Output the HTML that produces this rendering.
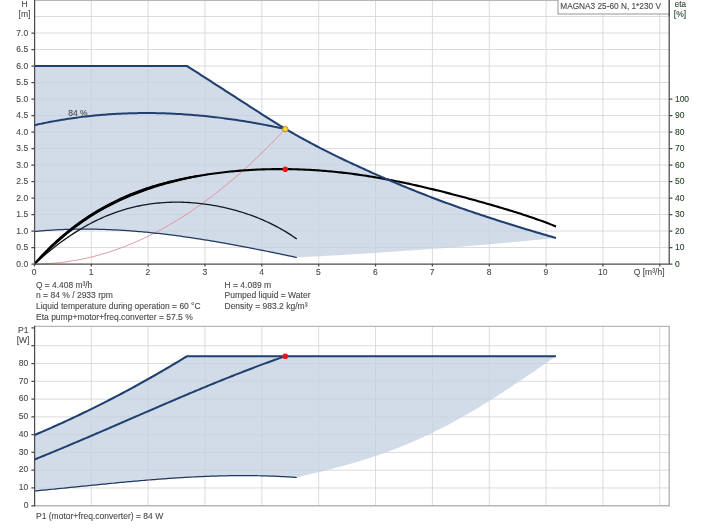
<!DOCTYPE html>
<html lang="en">
<head>
<meta charset="utf-8">
<title>MAGNA3 25-60 N, 1*230 V</title>
<style>
html,body{margin:0;padding:0;background:#fff;}
body{width:704px;height:528px;overflow:hidden;position:relative;font-family:"Liberation Sans",Arial,sans-serif;}
svg{position:absolute;left:0;top:0;display:block;}
svg text{font-family:"Liberation Sans",Arial,sans-serif;}
</style>
</head>
<body>
<svg width="704" height="528" viewBox="0 0 704 528">
<rect x="0" y="0" width="704" height="528" fill="#ffffff"/>
<path d="M91.30 0.40 V264.00 M148.15 0.40 V264.00 M205.00 0.40 V264.00 M261.85 0.40 V264.00 M318.70 0.40 V264.00 M375.55 0.40 V264.00 M432.40 0.40 V264.00 M489.25 0.40 V264.00 M546.10 0.40 V264.00 M602.95 0.40 V264.00 M659.80 0.40 V264.00 M34.60 247.50 H669.20 M34.60 231.00 H669.20 M34.60 214.50 H669.20 M34.60 198.00 H669.20 M34.60 181.50 H669.20 M34.60 165.00 H669.20 M34.60 148.50 H669.20 M34.60 132.00 H669.20 M34.60 115.50 H669.20 M34.60 99.00 H669.20 M34.60 82.50 H669.20 M34.60 66.00 H669.20 M34.60 49.50 H669.20 M34.60 33.00 H669.20 M34.60 16.50 H669.20 M91.30 326.40 V505.75 M148.15 326.40 V505.75 M205.00 326.40 V505.75 M261.85 326.40 V505.75 M318.70 326.40 V505.75 M375.55 326.40 V505.75 M432.40 326.40 V505.75 M489.25 326.40 V505.75 M546.10 326.40 V505.75 M602.95 326.40 V505.75 M659.80 326.40 V505.75 M34.60 487.97 H669.20 M34.60 470.19 H669.20 M34.60 452.41 H669.20 M34.60 434.63 H669.20 M34.60 416.85 H669.20 M34.60 399.07 H669.20 M34.60 381.29 H669.20 M34.60 363.51 H669.20 M34.60 345.73 H669.20" stroke="#d4d4d4" stroke-width="0.85" fill="none"/>
<path d="M34.60 66 H187 L187.00 66.00 L189.01 67.29 L191.01 68.58 L193.02 69.87 L195.02 71.16 L197.03 72.45 L199.03 73.74 L201.04 75.04 L203.04 76.33 L205.05 77.62 L207.05 78.91 L209.06 80.20 L211.07 81.49 L213.07 82.78 L215.08 84.07 L217.08 85.37 L219.09 86.66 L221.09 87.95 L223.10 89.24 L225.10 90.53 L227.11 91.82 L229.11 93.11 L231.12 94.40 L233.12 95.70 L235.13 96.99 L237.14 98.28 L239.14 99.57 L241.15 100.86 L243.15 102.15 L245.16 103.44 L247.16 104.73 L249.17 106.02 L251.17 107.32 L253.18 108.61 L255.18 109.90 L257.19 111.19 L259.20 112.48 L261.20 113.77 L263.21 115.06 L265.21 116.35 L267.22 117.64 L269.22 118.91 L271.23 120.18 L273.23 121.43 L275.24 122.68 L277.24 123.91 L279.25 125.13 L281.26 126.35 L283.26 127.55 L285.27 128.74 L287.27 129.92 L289.28 131.10 L291.28 132.26 L293.29 133.41 L295.29 134.55 L297.30 135.68 L299.30 136.80 L301.31 137.92 L303.32 139.02 L305.32 140.11 L307.33 141.20 L309.33 142.28 L311.34 143.36 L313.34 144.42 L315.35 145.48 L317.35 146.53 L319.36 147.57 L321.36 148.61 L323.37 149.64 L325.38 150.66 L327.38 151.67 L329.39 152.67 L331.39 153.67 L333.40 154.66 L335.40 155.64 L337.41 156.62 L339.41 157.58 L341.42 158.54 L343.42 159.50 L345.43 160.45 L347.43 161.40 L349.44 162.34 L351.45 163.28 L353.45 164.22 L355.46 165.15 L357.46 166.07 L359.47 167.00 L361.47 167.92 L363.48 168.83 L365.48 169.74 L367.49 170.65 L369.49 171.55 L371.50 172.45 L373.51 173.34 L375.51 174.23 L377.52 175.11 L379.52 176.00 L381.53 176.87 L383.53 177.75 L385.54 178.61 L387.54 179.48 L389.55 180.34 L391.55 181.20 L393.56 182.05 L395.57 182.90 L397.57 183.74 L399.58 184.58 L401.58 185.41 L403.59 186.25 L405.59 187.07 L407.60 187.89 L409.60 188.71 L411.61 189.52 L413.61 190.33 L415.62 191.14 L417.62 191.94 L419.63 192.73 L421.64 193.52 L423.64 194.31 L425.65 195.09 L427.65 195.86 L429.66 196.64 L431.66 197.40 L433.67 198.17 L435.67 198.92 L437.68 199.68 L439.68 200.43 L441.69 201.17 L443.70 201.91 L445.70 202.65 L447.71 203.38 L449.71 204.11 L451.72 204.83 L453.72 205.55 L455.73 206.26 L457.73 206.97 L459.74 207.67 L461.74 208.37 L463.75 209.07 L465.76 209.76 L467.76 210.44 L469.77 211.12 L471.77 211.80 L473.78 212.48 L475.78 213.15 L477.79 213.82 L479.79 214.49 L481.80 215.15 L483.80 215.81 L485.81 216.47 L487.82 217.13 L489.82 217.79 L491.83 218.44 L493.83 219.09 L495.84 219.74 L497.84 220.38 L499.85 221.02 L501.85 221.66 L503.86 222.30 L505.86 222.94 L507.87 223.57 L509.88 224.20 L511.88 224.83 L513.89 225.45 L515.89 226.07 L517.90 226.69 L519.90 227.31 L521.91 227.93 L523.91 228.54 L525.92 229.15 L527.92 229.76 L529.93 230.36 L531.93 230.96 L533.94 231.56 L535.95 232.16 L537.95 232.76 L539.96 233.35 L541.96 233.94 L543.97 234.53 L545.97 235.11 L547.98 235.69 L549.98 236.27 L551.99 236.85 L553.99 237.43 L556.00 238.00 L556.00 238.00 L549.97 238.60 L543.94 239.19 L537.92 239.77 L531.89 240.35 L525.86 240.92 L519.83 241.48 L513.80 242.04 L507.78 242.59 L501.75 243.13 L495.72 243.66 L489.69 244.19 L483.67 244.71 L477.64 245.23 L471.61 245.73 L465.58 246.23 L459.55 246.73 L453.53 247.21 L447.50 247.69 L441.47 248.17 L435.44 248.63 L429.41 249.09 L423.39 249.54 L417.36 249.99 L411.33 250.42 L405.30 250.85 L399.27 251.28 L393.25 251.70 L387.22 252.11 L381.19 252.51 L375.16 252.90 L369.13 253.29 L363.11 253.68 L357.08 254.05 L351.05 254.42 L345.02 254.78 L339.00 255.13 L332.97 255.48 L326.94 255.82 L320.91 256.16 L314.88 256.48 L308.86 256.80 L302.83 257.12 L296.80 257.42 L296.80 257.50 L294.80 257.07 L292.79 256.65 L290.79 256.23 L288.79 255.81 L286.79 255.38 L284.78 254.96 L282.78 254.55 L280.78 254.13 L278.78 253.71 L276.77 253.30 L274.77 252.89 L272.77 252.47 L270.77 252.06 L268.76 251.66 L266.76 251.25 L264.76 250.85 L262.75 250.44 L260.75 250.04 L258.75 249.64 L256.75 249.25 L254.74 248.85 L252.74 248.46 L250.74 248.07 L248.74 247.68 L246.73 247.29 L244.73 246.91 L242.73 246.53 L240.73 246.15 L238.72 245.77 L236.72 245.40 L234.72 245.03 L232.71 244.66 L230.71 244.30 L228.71 243.93 L226.71 243.57 L224.70 243.22 L222.70 242.86 L220.70 242.51 L218.70 242.17 L216.69 241.82 L214.69 241.48 L212.69 241.14 L210.69 240.81 L208.68 240.48 L206.68 240.15 L204.68 239.83 L202.67 239.51 L200.67 239.19 L198.67 238.88 L196.67 238.57 L194.66 238.26 L192.66 237.96 L190.66 237.66 L188.66 237.37 L186.65 237.08 L184.65 236.80 L182.65 236.52 L180.65 236.24 L178.64 235.97 L176.64 235.70 L174.64 235.43 L172.63 235.18 L170.63 234.92 L168.63 234.67 L166.63 234.43 L164.62 234.19 L162.62 233.95 L160.62 233.72 L158.62 233.49 L156.61 233.27 L154.61 233.06 L152.61 232.84 L150.60 232.64 L148.60 232.44 L146.60 232.24 L144.60 232.05 L142.59 231.87 L140.59 231.69 L138.59 231.51 L136.59 231.35 L134.58 231.18 L132.58 231.03 L130.58 230.88 L128.58 230.73 L126.57 230.59 L124.57 230.46 L122.57 230.33 L120.56 230.21 L118.56 230.09 L116.56 229.98 L114.56 229.88 L112.55 229.78 L110.55 229.69 L108.55 229.61 L106.55 229.53 L104.54 229.46 L102.54 229.39 L100.54 229.33 L98.54 229.28 L96.53 229.24 L94.53 229.20 L92.53 229.17 L90.52 229.14 L88.52 229.13 L86.52 229.12 L84.52 229.11 L82.51 229.12 L80.51 229.13 L78.51 229.15 L76.51 229.17 L74.50 229.20 L72.50 229.25 L70.50 229.29 L68.50 229.35 L66.49 229.41 L64.49 229.48 L62.49 229.56 L60.48 229.65 L58.48 229.74 L56.48 229.84 L54.48 229.95 L52.47 230.07 L50.47 230.20 L48.47 230.33 L46.47 230.47 L44.46 230.63 L42.46 230.78 L40.46 230.95 L38.46 231.13 L36.45 231.31 L34.45 231.50 Z" fill="rgba(194,209,225,0.76)" stroke="none"/>
<path d="M34.45 435.02 L36.46 434.17 L38.46 433.32 L40.47 432.46 L42.48 431.60 L44.49 430.73 L46.49 429.86 L48.50 428.98 L50.51 428.09 L52.52 427.21 L54.52 426.31 L56.53 425.41 L58.54 424.51 L60.54 423.60 L62.55 422.69 L64.56 421.77 L66.57 420.85 L68.57 419.92 L70.58 418.98 L72.59 418.05 L74.59 417.10 L76.60 416.15 L78.61 415.20 L80.62 414.24 L82.62 413.28 L84.63 412.31 L86.64 411.34 L88.65 410.36 L90.65 409.37 L92.66 408.38 L94.67 407.39 L96.67 406.39 L98.68 405.39 L100.69 404.38 L102.70 403.36 L104.70 402.35 L106.71 401.32 L108.72 400.29 L110.72 399.26 L112.73 398.22 L114.74 397.18 L116.75 396.13 L118.75 395.07 L120.76 394.01 L122.77 392.95 L124.78 391.88 L126.78 390.81 L128.79 389.73 L130.80 388.64 L132.80 387.55 L134.81 386.46 L136.82 385.36 L138.83 384.26 L140.83 383.15 L142.84 382.03 L144.85 380.91 L146.86 379.79 L148.86 378.66 L150.87 377.53 L152.88 376.39 L154.88 375.24 L156.89 374.09 L158.90 372.94 L160.91 371.78 L162.91 370.62 L164.92 369.45 L166.93 368.27 L168.93 367.09 L170.94 365.91 L172.95 364.72 L174.96 363.52 L176.96 362.32 L178.97 361.12 L180.98 359.91 L182.99 358.69 L184.99 357.47 L187.00 356.25 H556 L556.00 356.25 L554.01 357.62 L552.01 358.99 L550.02 360.37 L548.02 361.74 L546.03 363.11 L544.04 364.49 L542.04 365.86 L540.05 367.23 L538.06 368.60 L536.06 369.97 L534.07 371.34 L532.07 372.70 L530.08 374.06 L528.09 375.42 L526.09 376.78 L524.10 378.13 L522.10 379.48 L520.11 380.82 L518.12 382.16 L516.12 383.50 L514.13 384.83 L512.14 386.15 L510.14 387.47 L508.15 388.79 L506.15 390.10 L504.16 391.40 L502.17 392.70 L500.17 393.99 L498.18 395.27 L496.18 396.55 L494.19 397.81 L492.20 399.08 L490.20 400.33 L488.21 401.58 L486.22 402.81 L484.22 404.04 L482.23 405.27 L480.23 406.48 L478.24 407.68 L476.25 408.88 L474.25 410.07 L472.26 411.24 L470.26 412.41 L468.27 413.57 L466.28 414.72 L464.28 415.86 L462.29 416.99 L460.30 418.11 L458.30 419.22 L456.31 420.33 L454.31 421.42 L452.32 422.50 L450.33 423.57 L448.33 424.63 L446.34 425.67 L444.34 426.71 L442.35 427.74 L440.36 428.76 L438.36 429.77 L436.37 430.76 L434.38 431.75 L432.38 432.72 L430.39 433.68 L428.39 434.64 L426.40 435.58 L424.41 436.51 L422.41 437.43 L420.42 438.34 L418.42 439.24 L416.43 440.13 L414.44 441.00 L412.44 441.87 L410.45 442.72 L408.46 443.57 L406.46 444.40 L404.47 445.23 L402.47 446.04 L400.48 446.84 L398.49 447.63 L396.49 448.41 L394.50 449.18 L392.50 449.94 L390.51 450.69 L388.52 451.43 L386.52 452.16 L384.53 452.89 L382.54 453.60 L380.54 454.30 L378.55 454.99 L376.55 455.67 L374.56 456.34 L372.57 457.01 L370.57 457.66 L368.58 458.31 L366.58 458.95 L364.59 459.57 L362.60 460.19 L360.60 460.81 L358.61 461.41 L356.62 462.01 L354.62 462.60 L352.63 463.18 L350.63 463.75 L348.64 464.32 L346.65 464.88 L344.65 465.43 L342.66 465.98 L340.66 466.52 L338.67 467.06 L336.68 467.59 L334.68 468.11 L332.69 468.63 L330.70 469.14 L328.70 469.65 L326.71 470.16 L324.71 470.66 L322.72 471.15 L320.73 471.65 L318.73 472.14 L316.74 472.62 L314.74 473.11 L312.75 473.59 L310.76 474.07 L308.76 474.55 L306.77 475.03 L304.78 475.50 L302.78 475.98 L300.79 476.45 L298.79 476.93 L296.80 477.40 L296.80 477.50 L294.80 477.36 L292.79 477.22 L290.79 477.08 L288.79 476.96 L286.79 476.83 L284.78 476.72 L282.78 476.61 L280.78 476.51 L278.78 476.41 L276.77 476.32 L274.77 476.23 L272.77 476.15 L270.77 476.08 L268.76 476.01 L266.76 475.95 L264.76 475.89 L262.75 475.84 L260.75 475.79 L258.75 475.75 L256.75 475.71 L254.74 475.68 L252.74 475.66 L250.74 475.63 L248.74 475.62 L246.73 475.61 L244.73 475.60 L242.73 475.60 L240.73 475.61 L238.72 475.61 L236.72 475.63 L234.72 475.65 L232.71 475.67 L230.71 475.70 L228.71 475.73 L226.71 475.76 L224.70 475.80 L222.70 475.85 L220.70 475.90 L218.70 475.95 L216.69 476.01 L214.69 476.07 L212.69 476.14 L210.69 476.21 L208.68 476.28 L206.68 476.36 L204.68 476.44 L202.67 476.52 L200.67 476.61 L198.67 476.70 L196.67 476.80 L194.66 476.90 L192.66 477.00 L190.66 477.10 L188.66 477.21 L186.65 477.33 L184.65 477.44 L182.65 477.56 L180.65 477.68 L178.64 477.81 L176.64 477.93 L174.64 478.07 L172.63 478.20 L170.63 478.33 L168.63 478.47 L166.63 478.62 L164.62 478.76 L162.62 478.91 L160.62 479.06 L158.62 479.21 L156.61 479.36 L154.61 479.52 L152.61 479.68 L150.60 479.84 L148.60 480.00 L146.60 480.17 L144.60 480.34 L142.59 480.50 L140.59 480.68 L138.59 480.85 L136.59 481.02 L134.58 481.20 L132.58 481.38 L130.58 481.56 L128.58 481.74 L126.57 481.92 L124.57 482.11 L122.57 482.30 L120.56 482.48 L118.56 482.67 L116.56 482.86 L114.56 483.05 L112.55 483.25 L110.55 483.44 L108.55 483.63 L106.55 483.83 L104.54 484.02 L102.54 484.22 L100.54 484.42 L98.54 484.62 L96.53 484.82 L94.53 485.02 L92.53 485.22 L90.52 485.42 L88.52 485.62 L86.52 485.82 L84.52 486.02 L82.51 486.23 L80.51 486.43 L78.51 486.63 L76.51 486.83 L74.50 487.04 L72.50 487.24 L70.50 487.44 L68.50 487.64 L66.49 487.85 L64.49 488.05 L62.49 488.25 L60.48 488.45 L58.48 488.65 L56.48 488.85 L54.48 489.05 L52.47 489.25 L50.47 489.45 L48.47 489.65 L46.47 489.84 L44.46 490.04 L42.46 490.23 L40.46 490.43 L38.46 490.62 L36.45 490.81 L34.45 491.00 Z" fill="rgba(194,209,225,0.76)" stroke="none"/>
<path d="M34.60 0.40 H669.20" stroke="#b6b6b6" stroke-width="1.2" fill="none"/>
<path d="M34.60 326.40 H669.20 V505.75 H34.60" stroke="#b6b6b6" stroke-width="1.4" fill="none"/>
<path d="M34.45 264.00 L36.46 263.99 L38.46 263.97 L40.47 263.92 L42.47 263.86 L44.48 263.78 L46.48 263.69 L48.49 263.58 L50.49 263.45 L52.50 263.30 L54.50 263.14 L56.51 262.95 L58.51 262.76 L60.52 262.54 L62.52 262.31 L64.53 262.06 L66.53 261.79 L68.54 261.50 L70.54 261.20 L72.55 260.88 L74.55 260.54 L76.56 260.19 L78.56 259.82 L80.57 259.43 L82.57 259.02 L84.58 258.60 L86.59 258.16 L88.59 257.70 L90.60 257.23 L92.60 256.73 L94.61 256.22 L96.61 255.70 L98.62 255.15 L100.62 254.59 L102.63 254.01 L104.63 253.42 L106.64 252.80 L108.64 252.17 L110.65 251.52 L112.65 250.86 L114.66 250.18 L116.66 249.48 L118.67 248.76 L120.67 248.03 L122.68 247.27 L124.68 246.50 L126.69 245.72 L128.69 244.91 L130.70 244.09 L132.70 243.26 L134.71 242.40 L136.72 241.53 L138.72 240.64 L140.73 239.73 L142.73 238.81 L144.74 237.86 L146.74 236.91 L148.75 235.93 L150.75 234.94 L152.76 233.92 L154.76 232.90 L156.77 231.85 L158.77 230.79 L160.78 229.71 L162.78 228.61 L164.79 227.50 L166.79 226.37 L168.80 225.22 L170.80 224.05 L172.81 222.87 L174.81 221.67 L176.82 220.45 L178.82 219.21 L180.83 217.96 L182.83 216.69 L184.84 215.40 L186.85 214.10 L188.85 212.77 L190.86 211.44 L192.86 210.08 L194.87 208.71 L196.87 207.31 L198.88 205.91 L200.88 204.48 L202.89 203.04 L204.89 201.58 L206.90 200.10 L208.90 198.61 L210.91 197.09 L212.91 195.56 L214.92 194.02 L216.92 192.45 L218.93 190.87 L220.93 189.27 L222.94 187.66 L224.94 186.03 L226.95 184.38 L228.95 182.71 L230.96 181.02 L232.96 179.32 L234.97 177.60 L236.98 175.87 L238.98 174.11 L240.99 172.34 L242.99 170.55 L245.00 168.75 L247.00 166.92 L249.01 165.08 L251.01 163.23 L253.02 161.35 L255.02 159.46 L257.03 157.55 L259.03 155.62 L261.04 153.68 L263.04 151.72 L265.05 149.74 L267.05 147.74 L269.06 145.73 L271.06 143.70 L273.07 141.65 L275.07 139.59 L277.08 137.51 L279.08 135.41 L281.09 133.29 L283.09 131.15 L285.10 129.00" stroke="#e0959b" stroke-width="1" fill="none"/>
<path d="M34.45 231.50 L36.45 231.31 L38.46 231.13 L40.46 230.95 L42.46 230.78 L44.46 230.63 L46.47 230.47 L48.47 230.33 L50.47 230.20 L52.47 230.07 L54.48 229.95 L56.48 229.84 L58.48 229.74 L60.48 229.65 L62.49 229.56 L64.49 229.48 L66.49 229.41 L68.50 229.35 L70.50 229.29 L72.50 229.25 L74.50 229.20 L76.51 229.17 L78.51 229.15 L80.51 229.13 L82.51 229.12 L84.52 229.11 L86.52 229.12 L88.52 229.13 L90.52 229.14 L92.53 229.17 L94.53 229.20 L96.53 229.24 L98.54 229.28 L100.54 229.33 L102.54 229.39 L104.54 229.46 L106.55 229.53 L108.55 229.61 L110.55 229.69 L112.55 229.78 L114.56 229.88 L116.56 229.98 L118.56 230.09 L120.56 230.21 L122.57 230.33 L124.57 230.46 L126.57 230.59 L128.58 230.73 L130.58 230.88 L132.58 231.03 L134.58 231.18 L136.59 231.35 L138.59 231.51 L140.59 231.69 L142.59 231.87 L144.60 232.05 L146.60 232.24 L148.60 232.44 L150.60 232.64 L152.61 232.84 L154.61 233.06 L156.61 233.27 L158.62 233.49 L160.62 233.72 L162.62 233.95 L164.62 234.19 L166.63 234.43 L168.63 234.67 L170.63 234.92 L172.63 235.18 L174.64 235.43 L176.64 235.70 L178.64 235.97 L180.65 236.24 L182.65 236.52 L184.65 236.80 L186.65 237.08 L188.66 237.37 L190.66 237.66 L192.66 237.96 L194.66 238.26 L196.67 238.57 L198.67 238.88 L200.67 239.19 L202.67 239.51 L204.68 239.83 L206.68 240.15 L208.68 240.48 L210.69 240.81 L212.69 241.14 L214.69 241.48 L216.69 241.82 L218.70 242.17 L220.70 242.51 L222.70 242.86 L224.70 243.22 L226.71 243.57 L228.71 243.93 L230.71 244.30 L232.71 244.66 L234.72 245.03 L236.72 245.40 L238.72 245.77 L240.73 246.15 L242.73 246.53 L244.73 246.91 L246.73 247.29 L248.74 247.68 L250.74 248.07 L252.74 248.46 L254.74 248.85 L256.75 249.25 L258.75 249.64 L260.75 250.04 L262.75 250.44 L264.76 250.85 L266.76 251.25 L268.76 251.66 L270.77 252.06 L272.77 252.47 L274.77 252.89 L276.77 253.30 L278.78 253.71 L280.78 254.13 L282.78 254.55 L284.78 254.96 L286.79 255.38 L288.79 255.81 L290.79 256.23 L292.79 256.65 L294.80 257.07 L296.80 257.50" stroke="#1d3760" stroke-width="1.25" fill="none"/>
<path d="M34.45 264.05 L36.45 262.24 L38.46 260.46 L40.46 258.70 L42.46 256.97 L44.46 255.26 L46.47 253.58 L48.47 251.93 L50.47 250.29 L52.47 248.69 L54.48 247.11 L56.48 245.56 L58.48 244.04 L60.48 242.54 L62.49 241.08 L64.49 239.63 L66.49 238.22 L68.50 236.84 L70.50 235.48 L72.50 234.15 L74.50 232.85 L76.51 231.58 L78.51 230.34 L80.51 229.13 L82.51 227.94 L84.52 226.78 L86.52 225.65 L88.52 224.55 L90.52 223.48 L92.53 222.44 L94.53 221.42 L96.53 220.44 L98.54 219.48 L100.54 218.55 L102.54 217.65 L104.54 216.77 L106.55 215.93 L108.55 215.11 L110.55 214.31 L112.55 213.55 L114.56 212.81 L116.56 212.10 L118.56 211.42 L120.56 210.76 L122.57 210.13 L124.57 209.52 L126.57 208.94 L128.58 208.39 L130.58 207.86 L132.58 207.36 L134.58 206.88 L136.59 206.43 L138.59 206.00 L140.59 205.59 L142.59 205.21 L144.60 204.85 L146.60 204.52 L148.60 204.21 L150.60 203.92 L152.61 203.66 L154.61 203.41 L156.61 203.19 L158.62 203.00 L160.62 202.82 L162.62 202.66 L164.62 202.53 L166.63 202.42 L168.63 202.33 L170.63 202.26 L172.63 202.21 L174.64 202.18 L176.64 202.17 L178.64 202.18 L180.65 202.21 L182.65 202.26 L184.65 202.33 L186.65 202.42 L188.66 202.52 L190.66 202.65 L192.66 202.79 L194.66 202.96 L196.67 203.14 L198.67 203.34 L200.67 203.56 L202.67 203.80 L204.68 204.06 L206.68 204.33 L208.68 204.63 L210.69 204.94 L212.69 205.27 L214.69 205.62 L216.69 205.98 L218.70 206.37 L220.70 206.77 L222.70 207.20 L224.70 207.64 L226.71 208.10 L228.71 208.58 L230.71 209.08 L232.71 209.60 L234.72 210.14 L236.72 210.70 L238.72 211.28 L240.73 211.88 L242.73 212.50 L244.73 213.14 L246.73 213.80 L248.74 214.49 L250.74 215.19 L252.74 215.92 L254.74 216.68 L256.75 217.46 L258.75 218.26 L260.75 219.08 L262.75 219.94 L264.76 220.81 L266.76 221.72 L268.76 222.65 L270.77 223.61 L272.77 224.60 L274.77 225.62 L276.77 226.66 L278.78 227.74 L280.78 228.85 L282.78 230.00 L284.78 231.17 L286.79 232.39 L288.79 233.63 L290.79 234.92 L292.79 236.24 L294.80 237.60 L296.80 239.00" stroke="#111820" stroke-width="1.3" fill="none"/>
<path d="M34.45 264.06 L36.45 261.85 L38.45 259.68 L40.44 257.55 L42.44 255.46 L44.44 253.41 L46.44 251.39 L48.44 249.42 L50.44 247.48 L52.43 245.58 L54.43 243.72 L56.43 241.89 L58.43 240.10 L60.43 238.34 L62.43 236.62 L64.42 234.93 L66.42 233.28 L68.42 231.65 L70.42 230.06 L72.42 228.51 L74.42 226.98 L76.41 225.49 L78.41 224.02 L80.41 222.59 L82.41 221.18 L84.41 219.80 L86.41 218.46 L88.40 217.14 L90.40 215.84 L92.40 214.58 L94.40 213.34 L96.40 212.13 L98.39 210.94 L100.39 209.78 L102.39 208.64 L104.39 207.53 L106.39 206.44 L108.39 205.38 L110.38 204.33 L112.38 203.31 L114.38 202.32 L116.38 201.34 L118.38 200.39 L120.38 199.46 L122.37 198.54 L124.37 197.65 L126.37 196.78 L128.37 195.93 L130.37 195.09 L132.37 194.28 L134.36 193.48 L136.36 192.70 L138.36 191.94 L140.36 191.20 L142.36 190.48 L144.36 189.77 L146.35 189.07 L148.35 188.40 L150.35 187.74 L152.35 187.09 L154.35 186.46 L156.34 185.85 L158.34 185.25 L160.34 184.66 L162.34 184.09 L164.34 183.53 L166.34 182.99 L168.33 182.45 L170.33 181.94 L172.33 181.43 L174.33 180.94 L176.33 180.46 L178.33 179.99 L180.32 179.54 L182.32 179.09 L184.32 178.66 L186.32 178.24 L188.32 177.83 L190.32 177.43 L192.31 177.04 L194.31 176.67 L196.31 176.30 L198.31 175.95 L200.31 175.60 L202.31 175.27 L204.30 174.94 L206.30 174.63 L208.30 174.32 L210.30 174.02 L212.30 173.74 L214.29 173.46 L216.29 173.19 L218.29 172.93 L220.29 172.69 L222.29 172.44 L224.29 172.21 L226.28 171.99 L228.28 171.78 L230.28 171.57 L232.28 171.37 L234.28 171.19 L236.28 171.01 L238.27 170.83 L240.27 170.67 L242.27 170.52 L244.27 170.37 L246.27 170.23 L248.27 170.10 L250.26 169.98 L252.26 169.86 L254.26 169.76 L256.26 169.66 L258.26 169.57 L260.26 169.48 L262.25 169.41 L264.25 169.34 L266.25 169.28 L268.25 169.23 L270.25 169.19 L272.24 169.15 L274.24 169.12 L276.24 169.10 L278.24 169.09 L280.24 169.08 L282.24 169.08 L284.23 169.09 L286.23 169.11 L288.23 169.13 L290.23 169.17 L292.23 169.21 L294.23 169.25 L296.22 169.31 L298.22 169.37 L300.22 169.44 L302.22 169.52 L304.22 169.60 L306.22 169.70 L308.21 169.80 L310.21 169.90 L312.21 170.02 L314.21 170.14 L316.21 170.27 L318.21 170.40 L320.20 170.55 L322.20 170.70 L324.20 170.86 L326.20 171.02 L328.20 171.20 L330.19 171.38 L332.19 171.57 L334.19 171.76 L336.19 171.96 L338.19 172.17 L340.19 172.39 L342.18 172.61 L344.18 172.84 L346.18 173.08 L348.18 173.33 L350.18 173.58 L352.18 173.83 L354.17 174.10 L356.17 174.37 L358.17 174.65 L360.17 174.94 L362.17 175.23 L364.17 175.53 L366.16 175.83 L368.16 176.14 L370.16 176.46 L372.16 176.79 L374.16 177.12 L376.16 177.46 L378.15 177.80 L380.15 178.15 L382.15 178.50 L384.15 178.87 L386.15 179.23 L388.14 179.61 L390.14 179.99 L392.14 180.37 L394.14 180.76 L396.14 181.16 L398.14 181.56 L400.13 181.97 L402.13 182.38 L404.13 182.80 L406.13 183.22 L408.13 183.65 L410.13 184.08 L412.12 184.52 L414.12 184.96 L416.12 185.40 L418.12 185.86 L420.12 186.31 L422.12 186.77 L424.11 187.24 L426.11 187.71 L428.11 188.18 L430.11 188.66 L432.11 189.14 L434.11 189.62 L436.10 190.11 L438.10 190.60 L440.10 191.10 L442.10 191.60 L444.10 192.10 L446.09 192.61 L448.09 193.12 L450.09 193.64 L452.09 194.15 L454.09 194.67 L456.09 195.20 L458.08 195.72 L460.08 196.25 L462.08 196.78 L464.08 197.32 L466.08 197.86 L468.08 198.40 L470.07 198.94 L472.07 199.49 L474.07 200.04 L476.07 200.59 L478.07 201.15 L480.07 201.71 L482.06 202.27 L484.06 202.84 L486.06 203.40 L488.06 203.97 L490.06 204.55 L492.06 205.13 L494.05 205.71 L496.05 206.29 L498.05 206.88 L500.05 207.47 L502.05 208.06 L504.04 208.66 L506.04 209.27 L508.04 209.87 L510.04 210.49 L512.04 211.10 L514.04 211.72 L516.03 212.35 L518.03 212.98 L520.03 213.62 L522.03 214.26 L524.03 214.91 L526.03 215.57 L528.02 216.23 L530.02 216.90 L532.02 217.58 L534.02 218.27 L536.02 218.96 L538.02 219.67 L540.01 220.38 L542.01 221.10 L544.01 221.84 L546.01 222.58 L548.01 223.34 L550.01 224.11 L552.00 224.89 L554.00 225.69 L556.00 226.50" stroke="#000" stroke-width="2.1" fill="none" stroke-linejoin="round"/>
<path d="M35.23 264.76 L37.26 262.59 L39.30 260.46 L41.33 258.37 L43.36 256.32 L45.37 254.31 L47.39 252.33 L49.41 250.39 L51.42 248.48 L53.41 246.59 L55.41 244.74 L57.40 242.92 L59.39 241.14 L61.38 239.40 L63.37 237.68 L65.37 236.01 L67.36 234.36 L69.35 232.75 L71.34 231.17 L73.33 229.63 L75.32 228.11 L77.31 226.63 L79.31 225.17 L81.30 223.75 L83.29 222.35 L85.28 220.99 L87.27 219.65 L89.26 218.34 L91.25 217.06 L93.24 215.80 L95.23 214.58 L97.22 213.37 L99.21 212.20 L101.20 211.05 L103.19 209.92 L105.18 208.82 L107.17 207.74 L109.16 206.69 L111.15 205.66 L113.14 204.65 L115.13 203.66 L117.12 202.70 L119.11 201.75 L121.10 200.83 L123.09 199.93 L125.08 199.05 L127.07 198.18 L129.06 197.34 L131.05 196.52 L133.04 195.71 L135.03 194.93 L137.02 194.16 L139.01 193.40 L141.00 192.67 L142.98 191.93 L144.97 191.21 L146.95 190.51 L148.94 189.82 L150.92 189.15 L152.91 188.49 L154.89 187.85 L156.88 187.23 L158.87 186.62 L160.85 186.02 L162.84 185.42 L164.82 184.84 L166.81 184.28 L168.79 183.73 L170.78 183.19 L172.76 182.66 L174.75 182.15 L176.74 181.65 L178.73 181.16 L180.71 180.68 L182.70 180.22 L184.69 179.76 L186.68 179.32 L188.67 178.90 L190.66 178.49 L192.65 178.09 L194.65 177.71 L196.64 177.33 L198.64 176.96 L198.26 174.88 L196.26 175.22 L194.25 175.58 L192.25 175.94 L190.24 176.32 L188.23 176.71 L186.22 177.10 L184.21 177.50 L182.20 177.91 L180.19 178.33 L178.17 178.77 L176.16 179.21 L174.15 179.67 L172.14 180.14 L170.12 180.62 L168.11 181.12 L166.09 181.63 L164.08 182.15 L162.06 182.69 L160.05 183.24 L158.03 183.81 L156.02 184.40 L154.01 185.00 L151.99 185.62 L149.98 186.26 L147.96 186.91 L145.95 187.57 L143.93 188.25 L141.92 188.95 L139.90 189.67 L137.89 190.42 L135.88 191.19 L133.87 191.97 L131.86 192.78 L129.85 193.60 L127.84 194.45 L125.83 195.31 L123.82 196.19 L121.81 197.09 L119.80 198.01 L117.79 198.96 L115.78 199.92 L113.77 200.91 L111.76 201.91 L109.75 202.94 L107.74 204.00 L105.73 205.07 L103.72 206.17 L101.71 207.30 L99.70 208.44 L97.69 209.62 L95.68 210.81 L93.67 212.04 L91.66 213.29 L89.65 214.56 L87.64 215.87 L85.63 217.20 L83.62 218.56 L81.61 219.95 L79.60 221.37 L77.59 222.81 L75.59 224.29 L73.58 225.80 L71.57 227.34 L69.56 228.91 L67.55 230.51 L65.54 232.15 L63.53 233.81 L61.53 235.52 L59.52 237.25 L57.51 239.02 L55.50 240.83 L53.49 242.67 L51.49 244.55 L49.48 246.46 L47.49 248.43 L45.51 250.44 L43.53 252.49 L41.54 254.58 L39.57 256.71 L37.60 258.89 L35.64 261.10 L33.67 263.35 Z" fill="#000" stroke="none"/>
<path d="M34.45 125.16 L36.46 124.72 L38.46 124.28 L40.47 123.86 L42.47 123.44 L44.48 123.03 L46.48 122.63 L48.49 122.24 L50.49 121.85 L52.50 121.48 L54.50 121.11 L56.51 120.75 L58.51 120.41 L60.52 120.07 L62.52 119.73 L64.53 119.41 L66.53 119.09 L68.54 118.79 L70.54 118.49 L72.55 118.20 L74.55 117.92 L76.56 117.64 L78.56 117.38 L80.57 117.12 L82.57 116.87 L84.58 116.63 L86.59 116.40 L88.59 116.17 L90.60 115.96 L92.60 115.75 L94.61 115.55 L96.61 115.36 L98.62 115.17 L100.62 114.99 L102.63 114.83 L104.63 114.66 L106.64 114.51 L108.64 114.37 L110.65 114.23 L112.65 114.10 L114.66 113.98 L116.66 113.86 L118.67 113.76 L120.67 113.66 L122.68 113.57 L124.68 113.48 L126.69 113.41 L128.69 113.34 L130.70 113.28 L132.70 113.23 L134.71 113.18 L136.72 113.14 L138.72 113.11 L140.73 113.09 L142.73 113.07 L144.74 113.06 L146.74 113.06 L148.75 113.06 L150.75 113.08 L152.76 113.10 L154.76 113.12 L156.77 113.16 L158.77 113.20 L160.78 113.25 L162.78 113.30 L164.79 113.37 L166.79 113.44 L168.80 113.51 L170.80 113.60 L172.81 113.69 L174.81 113.79 L176.82 113.89 L178.82 114.00 L180.83 114.12 L182.83 114.24 L184.84 114.38 L186.85 114.52 L188.85 114.66 L190.86 114.81 L192.86 114.97 L194.87 115.14 L196.87 115.31 L198.88 115.49 L200.88 115.67 L202.89 115.86 L204.89 116.06 L206.90 116.27 L208.90 116.48 L210.91 116.69 L212.91 116.92 L214.92 117.15 L216.92 117.38 L218.93 117.63 L220.93 117.88 L222.94 118.13 L224.94 118.39 L226.95 118.66 L228.95 118.93 L230.96 119.21 L232.96 119.50 L234.97 119.79 L236.98 120.09 L238.98 120.40 L240.99 120.71 L242.99 121.02 L245.00 121.35 L247.00 121.67 L249.01 122.01 L251.01 122.35 L253.02 122.69 L255.02 123.05 L257.03 123.40 L259.03 123.77 L261.04 124.14 L263.04 124.51 L265.05 124.89 L267.05 125.28 L269.06 125.67 L271.06 126.07 L273.07 126.47 L275.07 126.88 L277.08 127.29 L279.08 127.71 L281.09 128.13 L283.09 128.56 L285.10 129.00" stroke="#213f70" stroke-width="2.0" fill="none"/>
<path d="M34.60 66 H187 L187.00 66.00 L189.01 67.29 L191.01 68.58 L193.02 69.87 L195.02 71.16 L197.03 72.45 L199.03 73.74 L201.04 75.04 L203.04 76.33 L205.05 77.62 L207.05 78.91 L209.06 80.20 L211.07 81.49 L213.07 82.78 L215.08 84.07 L217.08 85.37 L219.09 86.66 L221.09 87.95 L223.10 89.24 L225.10 90.53 L227.11 91.82 L229.11 93.11 L231.12 94.40 L233.12 95.70 L235.13 96.99 L237.14 98.28 L239.14 99.57 L241.15 100.86 L243.15 102.15 L245.16 103.44 L247.16 104.73 L249.17 106.02 L251.17 107.32 L253.18 108.61 L255.18 109.90 L257.19 111.19 L259.20 112.48 L261.20 113.77 L263.21 115.06 L265.21 116.35 L267.22 117.64 L269.22 118.91 L271.23 120.18 L273.23 121.43 L275.24 122.68 L277.24 123.91 L279.25 125.13 L281.26 126.35 L283.26 127.55 L285.27 128.74 L287.27 129.92 L289.28 131.10 L291.28 132.26 L293.29 133.41 L295.29 134.55 L297.30 135.68 L299.30 136.80 L301.31 137.92 L303.32 139.02 L305.32 140.11 L307.33 141.20 L309.33 142.28 L311.34 143.36 L313.34 144.42 L315.35 145.48 L317.35 146.53 L319.36 147.57 L321.36 148.61 L323.37 149.64 L325.38 150.66 L327.38 151.67 L329.39 152.67 L331.39 153.67 L333.40 154.66 L335.40 155.64 L337.41 156.62 L339.41 157.58 L341.42 158.54 L343.42 159.50 L345.43 160.45 L347.43 161.40 L349.44 162.34 L351.45 163.28 L353.45 164.22 L355.46 165.15 L357.46 166.07 L359.47 167.00 L361.47 167.92 L363.48 168.83 L365.48 169.74 L367.49 170.65 L369.49 171.55 L371.50 172.45 L373.51 173.34 L375.51 174.23 L377.52 175.11 L379.52 176.00 L381.53 176.87 L383.53 177.75 L385.54 178.61 L387.54 179.48 L389.55 180.34 L391.55 181.20 L393.56 182.05 L395.57 182.90 L397.57 183.74 L399.58 184.58 L401.58 185.41 L403.59 186.25 L405.59 187.07 L407.60 187.89 L409.60 188.71 L411.61 189.52 L413.61 190.33 L415.62 191.14 L417.62 191.94 L419.63 192.73 L421.64 193.52 L423.64 194.31 L425.65 195.09 L427.65 195.86 L429.66 196.64 L431.66 197.40 L433.67 198.17 L435.67 198.92 L437.68 199.68 L439.68 200.43 L441.69 201.17 L443.70 201.91 L445.70 202.65 L447.71 203.38 L449.71 204.11 L451.72 204.83 L453.72 205.55 L455.73 206.26 L457.73 206.97 L459.74 207.67 L461.74 208.37 L463.75 209.07 L465.76 209.76 L467.76 210.44 L469.77 211.12 L471.77 211.80 L473.78 212.48 L475.78 213.15 L477.79 213.82 L479.79 214.49 L481.80 215.15 L483.80 215.81 L485.81 216.47 L487.82 217.13 L489.82 217.79 L491.83 218.44 L493.83 219.09 L495.84 219.74 L497.84 220.38 L499.85 221.02 L501.85 221.66 L503.86 222.30 L505.86 222.94 L507.87 223.57 L509.88 224.20 L511.88 224.83 L513.89 225.45 L515.89 226.07 L517.90 226.69 L519.90 227.31 L521.91 227.93 L523.91 228.54 L525.92 229.15 L527.92 229.76 L529.93 230.36 L531.93 230.96 L533.94 231.56 L535.95 232.16 L537.95 232.76 L539.96 233.35 L541.96 233.94 L543.97 234.53 L545.97 235.11 L547.98 235.69 L549.98 236.27 L551.99 236.85 L553.99 237.43 L556.00 238.00" stroke="#213f70" stroke-width="2.1" fill="none" stroke-linejoin="round"/>
<path d="M34.45 491.00 L36.45 490.81 L38.46 490.62 L40.46 490.43 L42.46 490.23 L44.46 490.04 L46.47 489.84 L48.47 489.65 L50.47 489.45 L52.47 489.25 L54.48 489.05 L56.48 488.85 L58.48 488.65 L60.48 488.45 L62.49 488.25 L64.49 488.05 L66.49 487.85 L68.50 487.64 L70.50 487.44 L72.50 487.24 L74.50 487.04 L76.51 486.83 L78.51 486.63 L80.51 486.43 L82.51 486.23 L84.52 486.02 L86.52 485.82 L88.52 485.62 L90.52 485.42 L92.53 485.22 L94.53 485.02 L96.53 484.82 L98.54 484.62 L100.54 484.42 L102.54 484.22 L104.54 484.02 L106.55 483.83 L108.55 483.63 L110.55 483.44 L112.55 483.25 L114.56 483.05 L116.56 482.86 L118.56 482.67 L120.56 482.48 L122.57 482.30 L124.57 482.11 L126.57 481.92 L128.58 481.74 L130.58 481.56 L132.58 481.38 L134.58 481.20 L136.59 481.02 L138.59 480.85 L140.59 480.68 L142.59 480.50 L144.60 480.34 L146.60 480.17 L148.60 480.00 L150.60 479.84 L152.61 479.68 L154.61 479.52 L156.61 479.36 L158.62 479.21 L160.62 479.06 L162.62 478.91 L164.62 478.76 L166.63 478.62 L168.63 478.47 L170.63 478.33 L172.63 478.20 L174.64 478.07 L176.64 477.93 L178.64 477.81 L180.65 477.68 L182.65 477.56 L184.65 477.44 L186.65 477.33 L188.66 477.21 L190.66 477.10 L192.66 477.00 L194.66 476.90 L196.67 476.80 L198.67 476.70 L200.67 476.61 L202.67 476.52 L204.68 476.44 L206.68 476.36 L208.68 476.28 L210.69 476.21 L212.69 476.14 L214.69 476.07 L216.69 476.01 L218.70 475.95 L220.70 475.90 L222.70 475.85 L224.70 475.80 L226.71 475.76 L228.71 475.73 L230.71 475.70 L232.71 475.67 L234.72 475.65 L236.72 475.63 L238.72 475.61 L240.73 475.61 L242.73 475.60 L244.73 475.60 L246.73 475.61 L248.74 475.62 L250.74 475.63 L252.74 475.66 L254.74 475.68 L256.75 475.71 L258.75 475.75 L260.75 475.79 L262.75 475.84 L264.76 475.89 L266.76 475.95 L268.76 476.01 L270.77 476.08 L272.77 476.15 L274.77 476.23 L276.77 476.32 L278.78 476.41 L280.78 476.51 L282.78 476.61 L284.78 476.72 L286.79 476.83 L288.79 476.96 L290.79 477.08 L292.79 477.22 L294.80 477.36 L296.80 477.50" stroke="#1d3760" stroke-width="1.25" fill="none"/>
<path d="M34.45 459.52 L36.46 458.71 L38.46 457.90 L40.47 457.09 L42.47 456.28 L44.48 455.46 L46.48 454.64 L48.49 453.82 L50.49 453.00 L52.50 452.17 L54.50 451.34 L56.51 450.51 L58.51 449.68 L60.52 448.84 L62.52 448.01 L64.53 447.17 L66.53 446.33 L68.54 445.48 L70.54 444.64 L72.55 443.79 L74.55 442.95 L76.56 442.10 L78.56 441.25 L80.57 440.39 L82.57 439.54 L84.58 438.69 L86.59 437.83 L88.59 436.97 L90.60 436.11 L92.60 435.25 L94.61 434.39 L96.61 433.53 L98.62 432.67 L100.62 431.80 L102.63 430.94 L104.63 430.07 L106.64 429.21 L108.64 428.34 L110.65 427.47 L112.65 426.61 L114.66 425.74 L116.66 424.87 L118.67 424.00 L120.67 423.13 L122.68 422.26 L124.68 421.39 L126.69 420.52 L128.69 419.65 L130.70 418.78 L132.70 417.91 L134.71 417.04 L136.72 416.17 L138.72 415.30 L140.73 414.43 L142.73 413.56 L144.74 412.69 L146.74 411.83 L148.75 410.96 L150.75 410.09 L152.76 409.22 L154.76 408.36 L156.77 407.49 L158.77 406.63 L160.78 405.76 L162.78 404.90 L164.79 404.04 L166.79 403.18 L168.80 402.32 L170.80 401.46 L172.81 400.60 L174.81 399.75 L176.82 398.89 L178.82 398.04 L180.83 397.19 L182.83 396.34 L184.84 395.49 L186.85 394.64 L188.85 393.79 L190.86 392.95 L192.86 392.11 L194.87 391.27 L196.87 390.43 L198.88 389.59 L200.88 388.76 L202.89 387.92 L204.89 387.09 L206.90 386.26 L208.90 385.44 L210.91 384.61 L212.91 383.79 L214.92 382.97 L216.92 382.16 L218.93 381.34 L220.93 380.53 L222.94 379.72 L224.94 378.91 L226.95 378.11 L228.95 377.31 L230.96 376.51 L232.96 375.72 L234.97 374.92 L236.98 374.13 L238.98 373.35 L240.99 372.56 L242.99 371.78 L245.00 371.01 L247.00 370.24 L249.01 369.47 L251.01 368.70 L253.02 367.94 L255.02 367.18 L257.03 366.42 L259.03 365.67 L261.04 364.92 L263.04 364.18 L265.05 363.43 L267.05 362.70 L269.06 361.96 L271.06 361.24 L273.07 360.51 L275.07 359.79 L277.08 359.07 L279.08 358.36 L281.09 357.65 L283.09 356.95 L285.10 356.25" stroke="#213f70" stroke-width="2.0" fill="none"/>
<path d="M34.45 435.02 L36.46 434.17 L38.46 433.32 L40.47 432.46 L42.48 431.60 L44.49 430.73 L46.49 429.86 L48.50 428.98 L50.51 428.09 L52.52 427.21 L54.52 426.31 L56.53 425.41 L58.54 424.51 L60.54 423.60 L62.55 422.69 L64.56 421.77 L66.57 420.85 L68.57 419.92 L70.58 418.98 L72.59 418.05 L74.59 417.10 L76.60 416.15 L78.61 415.20 L80.62 414.24 L82.62 413.28 L84.63 412.31 L86.64 411.34 L88.65 410.36 L90.65 409.37 L92.66 408.38 L94.67 407.39 L96.67 406.39 L98.68 405.39 L100.69 404.38 L102.70 403.36 L104.70 402.35 L106.71 401.32 L108.72 400.29 L110.72 399.26 L112.73 398.22 L114.74 397.18 L116.75 396.13 L118.75 395.07 L120.76 394.01 L122.77 392.95 L124.78 391.88 L126.78 390.81 L128.79 389.73 L130.80 388.64 L132.80 387.55 L134.81 386.46 L136.82 385.36 L138.83 384.26 L140.83 383.15 L142.84 382.03 L144.85 380.91 L146.86 379.79 L148.86 378.66 L150.87 377.53 L152.88 376.39 L154.88 375.24 L156.89 374.09 L158.90 372.94 L160.91 371.78 L162.91 370.62 L164.92 369.45 L166.93 368.27 L168.93 367.09 L170.94 365.91 L172.95 364.72 L174.96 363.52 L176.96 362.32 L178.97 361.12 L180.98 359.91 L182.99 358.69 L184.99 357.47 L187.00 356.25 H556" stroke="#213f70" stroke-width="2.1" fill="none" stroke-linejoin="round"/>
<path d="M34.60 0.00 V264.00 H669.20 V0.00 M31.40 264.00 H34.60 M31.40 247.50 H34.60 M31.40 231.00 H34.60 M31.40 214.50 H34.60 M31.40 198.00 H34.60 M31.40 181.50 H34.60 M31.40 165.00 H34.60 M31.40 148.50 H34.60 M31.40 132.00 H34.60 M31.40 115.50 H34.60 M31.40 99.00 H34.60 M31.40 82.50 H34.60 M31.40 66.00 H34.60 M31.40 49.50 H34.60 M31.40 33.00 H34.60 M669.20 264.00 H672.40 M669.20 247.50 H672.40 M669.20 231.00 H672.40 M669.20 214.50 H672.40 M669.20 198.00 H672.40 M669.20 181.50 H672.40 M669.20 165.00 H672.40 M669.20 148.50 H672.40 M669.20 132.00 H672.40 M669.20 115.50 H672.40 M669.20 99.00 H672.40 M34.45 264.00 V266.40 M91.30 264.00 V266.40 M148.15 264.00 V266.40 M205.00 264.00 V266.40 M261.85 264.00 V266.40 M318.70 264.00 V266.40 M375.55 264.00 V266.40 M432.40 264.00 V266.40 M489.25 264.00 V266.40 M546.10 264.00 V266.40 M602.95 264.00 V266.40 M659.80 264.00 V266.40" stroke="#4c4c4c" stroke-width="1.25" fill="none"/>
<path d="M34.60 325.80 V506.45 M31.40 505.75 H34.60 M31.40 487.97 H34.60 M31.40 470.19 H34.60 M31.40 452.41 H34.60 M31.40 434.63 H34.60 M31.40 416.85 H34.60 M31.40 399.07 H34.60 M31.40 381.29 H34.60 M31.40 363.51 H34.60 M31.40 345.73 H34.60 M31.40 327.80 H34.60" stroke="#4c4c4c" stroke-width="1.25" fill="none"/>
<circle cx="285.30" cy="129.15" r="2.7" fill="#ffd92e" stroke="#c9800f" stroke-width="1.0"/>
<circle cx="285.30" cy="169.20" r="2.8" fill="#ee1414"/>
<circle cx="285.30" cy="356.20" r="2.8" fill="#ee1414"/>
<rect x="558" y="-2" width="111.20" height="16" fill="#ffffff" stroke="#8a8a8a" stroke-width="0.9"/>
<path d="M669.20 0 V16" stroke="#4c4c4c" stroke-width="1.25" fill="none"/>
<g font-family="'Liberation Sans', Arial, sans-serif" transform="scale(1,1.060)" stroke-width="0.1" paint-order="stroke">
<text x="560.30" y="8.96" text-anchor="start" fill="#484848" stroke="#484848" font-size="8.53" textLength="100.60" lengthAdjust="spacingAndGlyphs">MAGNA3 25-60 N, 1*230 V</text>
<text x="24.50" y="6.79" text-anchor="middle" fill="#484848" stroke="#484848" font-size="8.53">H</text>
<text x="24.50" y="16.23" text-anchor="middle" fill="#484848" stroke="#484848" font-size="8.53">[m]</text>
<text x="28.20" y="251.60" text-anchor="end" fill="#484848" stroke="#484848" font-size="8.53">0.0</text>
<text x="28.20" y="236.04" text-anchor="end" fill="#484848" stroke="#484848" font-size="8.53">0.5</text>
<text x="28.20" y="220.47" text-anchor="end" fill="#484848" stroke="#484848" font-size="8.53">1.0</text>
<text x="28.20" y="204.91" text-anchor="end" fill="#484848" stroke="#484848" font-size="8.53">1.5</text>
<text x="28.20" y="189.34" text-anchor="end" fill="#484848" stroke="#484848" font-size="8.53">2.0</text>
<text x="28.20" y="173.77" text-anchor="end" fill="#484848" stroke="#484848" font-size="8.53">2.5</text>
<text x="28.20" y="158.21" text-anchor="end" fill="#484848" stroke="#484848" font-size="8.53">3.0</text>
<text x="28.20" y="142.64" text-anchor="end" fill="#484848" stroke="#484848" font-size="8.53">3.5</text>
<text x="28.20" y="127.08" text-anchor="end" fill="#484848" stroke="#484848" font-size="8.53">4.0</text>
<text x="28.20" y="111.51" text-anchor="end" fill="#484848" stroke="#484848" font-size="8.53">4.5</text>
<text x="28.20" y="95.94" text-anchor="end" fill="#484848" stroke="#484848" font-size="8.53">5.0</text>
<text x="28.20" y="80.38" text-anchor="end" fill="#484848" stroke="#484848" font-size="8.53">5.5</text>
<text x="28.20" y="64.81" text-anchor="end" fill="#484848" stroke="#484848" font-size="8.53">6.0</text>
<text x="28.20" y="49.25" text-anchor="end" fill="#484848" stroke="#484848" font-size="8.53">6.5</text>
<text x="28.20" y="33.68" text-anchor="end" fill="#484848" stroke="#484848" font-size="8.53">7.0</text>
<text x="34.25" y="259.43" text-anchor="middle" fill="#484848" stroke="#484848" font-size="8.53">0</text>
<text x="91.10" y="259.43" text-anchor="middle" fill="#484848" stroke="#484848" font-size="8.53">1</text>
<text x="147.95" y="259.43" text-anchor="middle" fill="#484848" stroke="#484848" font-size="8.53">2</text>
<text x="204.80" y="259.43" text-anchor="middle" fill="#484848" stroke="#484848" font-size="8.53">3</text>
<text x="261.65" y="259.43" text-anchor="middle" fill="#484848" stroke="#484848" font-size="8.53">4</text>
<text x="318.50" y="259.43" text-anchor="middle" fill="#484848" stroke="#484848" font-size="8.53">5</text>
<text x="375.35" y="259.43" text-anchor="middle" fill="#484848" stroke="#484848" font-size="8.53">6</text>
<text x="432.20" y="259.43" text-anchor="middle" fill="#484848" stroke="#484848" font-size="8.53">7</text>
<text x="489.05" y="259.43" text-anchor="middle" fill="#484848" stroke="#484848" font-size="8.53">8</text>
<text x="545.90" y="259.43" text-anchor="middle" fill="#484848" stroke="#484848" font-size="8.53">9</text>
<text x="602.75" y="259.43" text-anchor="middle" fill="#484848" stroke="#484848" font-size="8.53">10</text>
<text x="664.50" y="259.43" text-anchor="end" fill="#484848" stroke="#484848" font-size="8.53">Q [m³/h]</text>
<text x="680.30" y="6.51" text-anchor="middle" fill="#27402a" stroke="#27402a" font-size="8.53" textLength="11.20" lengthAdjust="spacingAndGlyphs">eta</text>
<text x="680.00" y="16.04" text-anchor="middle" fill="#27402a" stroke="#27402a" font-size="8.53">[%]</text>
<text x="674.90" y="251.60" text-anchor="start" fill="#27402a" stroke="#27402a" font-size="8.53">0</text>
<text x="674.90" y="236.04" text-anchor="start" fill="#27402a" stroke="#27402a" font-size="8.53">10</text>
<text x="674.90" y="220.47" text-anchor="start" fill="#27402a" stroke="#27402a" font-size="8.53">20</text>
<text x="674.90" y="204.91" text-anchor="start" fill="#27402a" stroke="#27402a" font-size="8.53">30</text>
<text x="674.90" y="189.34" text-anchor="start" fill="#27402a" stroke="#27402a" font-size="8.53">40</text>
<text x="674.90" y="173.77" text-anchor="start" fill="#27402a" stroke="#27402a" font-size="8.53">50</text>
<text x="674.90" y="158.21" text-anchor="start" fill="#27402a" stroke="#27402a" font-size="8.53">60</text>
<text x="674.90" y="142.64" text-anchor="start" fill="#27402a" stroke="#27402a" font-size="8.53">70</text>
<text x="674.90" y="127.08" text-anchor="start" fill="#27402a" stroke="#27402a" font-size="8.53">80</text>
<text x="674.90" y="111.51" text-anchor="start" fill="#27402a" stroke="#27402a" font-size="8.53">90</text>
<text x="674.90" y="95.94" text-anchor="start" fill="#27402a" stroke="#27402a" font-size="8.53">100</text>
<text x="68.20" y="109.81" text-anchor="start" fill="#484848" stroke="#484848" font-size="8.53">84 %</text>
<text x="36.00" y="271.51" text-anchor="start" fill="#484848" stroke="#484848" font-size="8.53" textLength="56.20" lengthAdjust="spacingAndGlyphs">Q = 4.408 m³/h</text>
<text x="36.00" y="281.60" text-anchor="start" fill="#484848" stroke="#484848" font-size="8.53">n = 84 % / 2933 rpm</text>
<text x="36.00" y="291.70" text-anchor="start" fill="#484848" stroke="#484848" font-size="8.53" textLength="164.60" lengthAdjust="spacingAndGlyphs">Liquid temperature during operation = 60 °C</text>
<text x="36.00" y="301.79" text-anchor="start" fill="#484848" stroke="#484848" font-size="8.53">Eta pump+motor+freq.converter = 57.5 %</text>
<text x="224.50" y="271.51" text-anchor="start" fill="#484848" stroke="#484848" font-size="8.53">H = 4.089 m</text>
<text x="224.50" y="281.60" text-anchor="start" fill="#484848" stroke="#484848" font-size="8.53">Pumped liquid = Water</text>
<text x="224.50" y="291.70" text-anchor="start" fill="#484848" stroke="#484848" font-size="8.53">Density = 983.2 kg/m³</text>
<text x="23.30" y="314.62" text-anchor="middle" fill="#484848" stroke="#484848" font-size="8.53">P1</text>
<text x="23.10" y="323.96" text-anchor="middle" fill="#484848" stroke="#484848" font-size="8.53">[W]</text>
<text x="28.60" y="479.29" text-anchor="end" fill="#484848" stroke="#484848" font-size="8.53">0</text>
<text x="28.30" y="462.52" text-anchor="end" fill="#484848" stroke="#484848" font-size="8.53">10</text>
<text x="28.30" y="445.75" text-anchor="end" fill="#484848" stroke="#484848" font-size="8.53">20</text>
<text x="28.30" y="428.97" text-anchor="end" fill="#484848" stroke="#484848" font-size="8.53">30</text>
<text x="28.30" y="412.20" text-anchor="end" fill="#484848" stroke="#484848" font-size="8.53">40</text>
<text x="28.30" y="395.42" text-anchor="end" fill="#484848" stroke="#484848" font-size="8.53">50</text>
<text x="28.30" y="378.65" text-anchor="end" fill="#484848" stroke="#484848" font-size="8.53">60</text>
<text x="28.30" y="361.88" text-anchor="end" fill="#484848" stroke="#484848" font-size="8.53">70</text>
<text x="28.30" y="345.10" text-anchor="end" fill="#484848" stroke="#484848" font-size="8.53">80</text>
<text x="36.00" y="489.91" text-anchor="start" fill="#484848" stroke="#484848" font-size="8.53">P1 (motor+freq.converter) = 84 W</text>
</g>
</svg>
</body>
</html>
